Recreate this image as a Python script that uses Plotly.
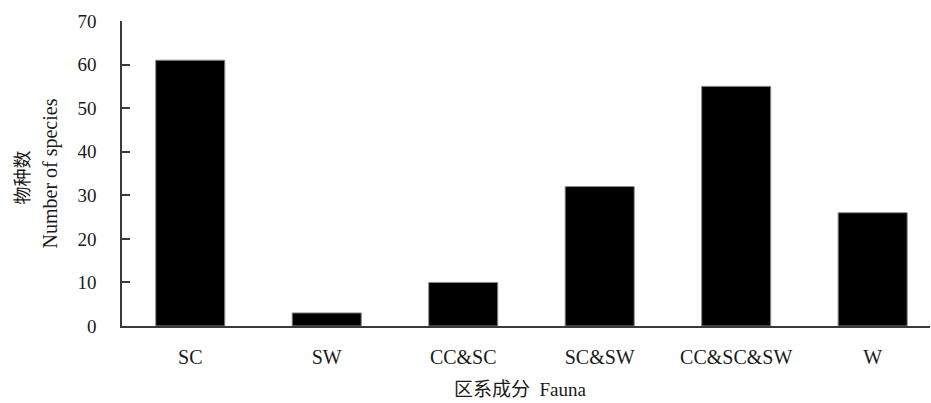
import plotly.graph_objects as go

categories = ["SC", "SW", "CC&SC", "SC&SW", "CC&SC&SW", "W"]
species_counts = [61, 3, 10, 32, 55, 26]
y_ticks = [0, 10, 20, 30, 40, 50, 60, 70]

FONT = "Liberation Serif, Times New Roman, Noto Sans CJK SC, serif"
AXIS_COLOR = "#3a3a3a"

fig = go.Figure(
    go.Bar(
        x=list(range(len(categories))),
        y=species_counts,
        marker=dict(color="#000000", line=dict(color="#8a8a8a", width=1)),
        width=0.506,
    )
)

fig.update_layout(
    width=931,
    height=403,
    margin=dict(l=122, r=1, t=21, b=77),
    paper_bgcolor="white",
    plot_bgcolor="white",
    showlegend=False,
    font=dict(family=FONT, size=16, color="#1a1a1a"),
    xaxis=dict(
        range=[-0.5, 5.42],
        tickmode="array",
        tickvals=list(range(len(categories))),
        ticktext=categories,
        showline=True,
        linecolor=AXIS_COLOR,
        linewidth=1.5,
        ticks="",
        showgrid=False,
        zeroline=False,
        tickfont=dict(size=20, family=FONT),
        ticklabelstandoff=12,
    ),
    yaxis=dict(
        range=[0, 70],
        tickmode="array",
        tickvals=y_ticks,
        showline=True,
        linecolor=AXIS_COLOR,
        linewidth=1.5,
        ticks="inside",
        ticklen=8,
        tickwidth=1.5,
        tickcolor=AXIS_COLOR,
        showgrid=False,
        zeroline=False,
        tickfont=dict(size=19, family=FONT),
        ticklabelstandoff=20,
    ),
    annotations=[
        dict(text="物种数", xref="paper", yref="paper", x=0, y=0.5,
             xshift=-100, yshift=-4, textangle=-90, showarrow=False,
             font=dict(size=18, family=FONT), xanchor="center", yanchor="middle"),
        dict(text="Number of species", xref="paper", yref="paper", x=0, y=0.5,
             xshift=-72, textangle=-90, showarrow=False,
             font=dict(size=20, family=FONT), xanchor="center", yanchor="middle"),
        dict(text="区系成分&nbsp;&nbsp;Fauna", xref="paper", yref="paper", x=0.4926, y=0,
             yshift=-63, showarrow=False,
             font=dict(size=19, family=FONT), xanchor="center", yanchor="middle"),
    ],
)

fig.write_html("out.html", config={"displayModeBar": False},
               post_script="document.body.style.margin='0';")
